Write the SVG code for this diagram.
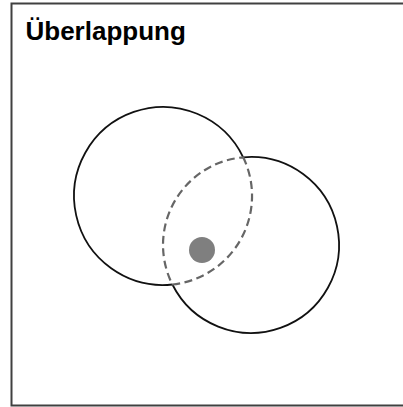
<svg xmlns="http://www.w3.org/2000/svg" width="403" height="407" viewBox="0 0 403 407">
<style>
.frame{fill:none;stroke:#404040;stroke-width:2}
.ring{fill:none;stroke:#111;stroke-width:1.8}
.lens{fill:none;stroke:#666;stroke-width:2.2;stroke-dasharray:8 4.5}
.title{font-family:"Liberation Sans",Arial,sans-serif;font-weight:bold;font-size:26px;fill:#000}
</style>
<rect width="403" height="407" fill="#fff"/>
<path class="frame" d="M405,3.5 H11.5 V405.5 H405"/>
<text class="title" x="25.5" y="40">Überlappung</text>
<g id="circle-a"><path class="ring" d="M243.2,157.3 A89,89 0 1 0 172.4,284.5"/></g>
<g id="circle-b"><path class="ring" d="M243.2,157.3 A88,88 0 1 1 172.4,284.5"/></g>
<g id="overlap"><path class="lens" d="M243.2,157.3 A89,89 0 0 1 172.4,284.5 A88,88 0 0 1 243.2,157.3 Z"/></g>
<g id="dot"><circle cx="202" cy="250" r="13" fill="#7f7f7f"/></g>
</svg>
